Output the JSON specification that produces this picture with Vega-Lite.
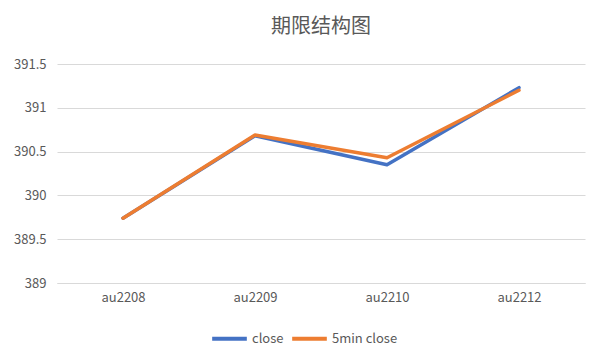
{
  "$schema": "https://vega.github.io/schema/vega-lite/v6.json",
  "width": 528,
  "height": 219,
  "autosize": {"type": "none"},
  "padding": {"left": 57, "top": 64, "right": 17, "bottom": 79},
  "background": "white",
  "title": {"text": "期限结构图", "fontSize": 20, "font": "Noto Sans CJK SC", "fontWeight": "normal", "color": "#595959", "offset": 21, "anchor": "middle"},
  "data": {"values": [
    {"contract": "au2208", "series": "close", "price": 389.74},
    {"contract": "au2209", "series": "close", "price": 390.68},
    {"contract": "au2210", "series": "close", "price": 390.35},
    {"contract": "au2212", "series": "close", "price": 391.23},
    {"contract": "au2208", "series": "5min close", "price": 389.74},
    {"contract": "au2209", "series": "5min close", "price": 390.69},
    {"contract": "au2210", "series": "5min close", "price": 390.43},
    {"contract": "au2212", "series": "5min close", "price": 391.2}
  ]},
  "mark": {"type": "line", "strokeWidth": 3.5, "strokeCap": "round", "strokeJoin": "round"},
  "encoding": {
    "x": {"field": "contract", "type": "nominal", "sort": null, "title": null,
      "scale": {"paddingInner": 0, "paddingOuter": 0.5},
      "axis": {"labelAngle": 0, "ticks": false, "domainColor": "#d9d9d9", "labelColor": "#595959", "labelFontSize": 13, "labelFont": "Noto Sans CJK SC", "labelPadding": 8, "grid": false}},
    "y": {"field": "price", "type": "quantitative", "title": null,
      "scale": {"domain": [389, 391.5], "zero": false, "nice": false},
      "axis": {"values": [389, 389.5, 390, 390.5, 391, 391.5], "format": "~g", "domain": false, "ticks": false, "gridColor": "#d9d9d9", "labelColor": "#595959", "labelFontSize": 13, "labelFont": "Noto Sans CJK SC", "labelPadding": 11}},
    "color": {"field": "series", "type": "nominal", "title": null,
      "scale": {"domain": ["close", "5min close"], "range": ["#4472C4", "#ED7D31"]},
      "legend": {"orient": "none", "legendX": 153, "legendY": 255, "direction": "horizontal", "symbolType": "stroke", "symbolStrokeWidth": 4, "symbolSize": 1200, "labelFontSize": 13, "labelFont": "Noto Sans CJK SC", "labelColor": "#595959", "columnPadding": 0, "labelOffset": 3}},
    "order": {"field": "series", "sort": "descending"}
  },
  "config": {"view": {"stroke": null}}
}
